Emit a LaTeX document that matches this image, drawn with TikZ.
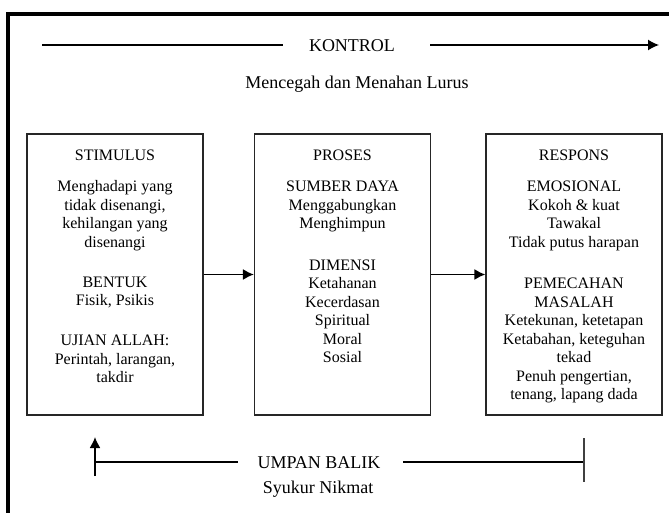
\documentclass[tikz,border=0pt]{standalone}
\usepackage{fontspec}
\setmainfont{Liberation Serif}
\usetikzlibrary{arrows.meta}
\begin{document}
\begin{tikzpicture}[x=1pt,y=-1pt,
  box/.style={draw=black!85, line width=1.2pt, minimum width=176pt, minimum height=281pt, inner sep=0pt},
  boxtext/.style={align=center, anchor=north, inner sep=0pt, font=\fontsize{16}{18.5}\selectfont},
  lbl/.style={inner sep=0pt, anchor=base, font=\fontsize{18}{21}\selectfont},
  conn/.style={line width=1.6pt, -{Latex[length=11pt,width=11pt]}},
  hline/.style={line width=1.1pt},
  frameline/.style={line width=4pt}]
\useasboundingbox (0,0) rectangle (669,513);
\clip (0,0) rectangle (669,513);
\fill[white] (0,0) rectangle (669,513);
% outer frame (top and left edges visible)
\coordinate (f1) at (8,530);
\coordinate (f2) at (8,14);
\coordinate (f3) at (690,14);
\draw[frameline] (f1) -- (f2) -- (f3);

% KONTROL line
\node[lbl] (kontrol) at (352,52) {KONTROL};
\coordinate (k1) at (42,45);
\coordinate (k2) at (283,45);
\coordinate (k3) at (430,45);
\coordinate (k4) at (659,45);
\draw[hline] (k1) -- (k2);
\draw[line width=1.4pt,-{Latex[length=11pt,width=11pt]}] (k3) -- (k4);
\node[lbl] (mencegah) at (357,89) {Mencegah dan Menahan Lurus};

% boxes
\node[box] (stim) at (115,274.5) {};
\node[box] (proc) at (342.5,274.5) {};
\node[box] (resp) at (574,274.5) {};

\node[boxtext] (stimtxt) at (115,150) {STIMULUS\\[12.5pt]
Menghadapi yang\\ tidak disenangi,\\ kehilangan yang\\ disenangi\\[21.5pt]
BENTUK\\ Fisik, Psikis\\[21.5pt]
UJIAN ALLAH:\\ Perintah, larangan,\\ takdir};

\node[boxtext] (proctxt) at (342.5,150) {PROSES\\[12.5pt]
SUMBER DAYA\\ Menggabungkan\\ Menghimpun\\[23pt]
DIMENSI\\ Ketahanan\\ Kecerdasan\\ Spiritual\\ Moral\\ Sosial};

\node[boxtext] (resptxt) at (574,150) {RESPONS\\[12.5pt]
EMOSIONAL\\ Kokoh \& kuat\\ Tawakal\\ Tidak putus harapan\\[23pt]
PEMECAHAN\\ MASALAH\\ Ketekunan, ketetapan\\ Ketabahan, keteguhan\\ tekad\\ Penuh pengertian,\\ tenang, lapang dada};

\draw[conn] (stim.east) -- (proc.west);
\draw[conn] (proc.east) -- (resp.west);

% feedback
\node[lbl] (umpan) at (319,468) {UMPAN BALIK};
\node[lbl] (syukur) at (318,493) {Syukur Nikmat};
\coordinate (u1) at (95,476);
\coordinate (u2) at (95,437);
\coordinate (u0) at (95,462);
\coordinate (u3) at (238,462);
\coordinate (u4) at (403,462);
\coordinate (u5) at (584,462);
\coordinate (b1) at (584,438);
\coordinate (b2) at (584,482);
\draw[conn] (u1) -- (u2);
\draw[hline] (u0) -- (u3);
\draw[hline] (u4) -- (u5);
\draw[line width=1.3pt, draw=black!75] (b1) -- (b2);
\end{tikzpicture}
\end{document}
